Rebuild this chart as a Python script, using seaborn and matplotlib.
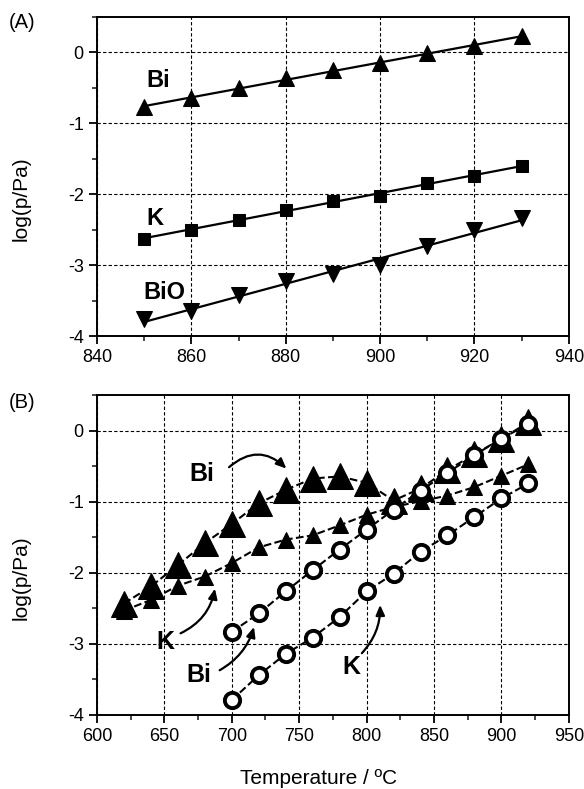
import matplotlib
matplotlib.use("Agg")
import matplotlib.pyplot as plt
import seaborn as sns
import numpy as np
from matplotlib.ticker import MultipleLocator, AutoMinorLocator

sns.set_theme(style="white")
plt.rcParams['font.family'] = ['Liberation Sans', 'DejaVu Sans']
plt.rcParams['text.color'] = 'black'
plt.rcParams['axes.labelcolor'] = 'black'
plt.rcParams['axes.unicode_minus'] = False

# ---------------- Panel A data ----------------
temp_a = [850, 860, 870, 880, 890, 900, 910, 920, 930]
bi_a = [-0.77, -0.65, -0.51, -0.37, -0.25, -0.16, -0.02, 0.08, 0.23]
k_a = [-2.63, -2.50, -2.36, -2.22, -2.10, -2.02, -1.85, -1.74, -1.60]
bio_a = [-3.76, -3.65, -3.42, -3.23, -3.13, -3.00, -2.73, -2.50, -2.34]

# ---------------- Panel B data ----------------
temp_tri = [620, 640, 660, 680, 700, 720, 740, 760, 780, 800, 820, 840, 860, 880, 900, 920]
bi_big_tri = [-2.43, -2.19, -1.89, -1.58, -1.31, -1.02, -0.83, -0.67, -0.64, -0.73,
              -0.98, -0.81, -0.55, -0.33, -0.11, 0.12]
k_small_tri = [-2.53, -2.38, -2.18, -2.05, -1.86, -1.64, -1.53, -1.47, -1.33, -1.18,
               -1.07, -0.99, -0.91, -0.79, -0.63, -0.47]
temp_circ = [700, 720, 740, 760, 780, 800, 820, 840, 860, 880, 900, 920]
bi_circ = [-2.83, -2.57, -2.26, -1.96, -1.67, -1.39, -1.11, -0.84, -0.59, -0.34, -0.11, 0.10]
k_circ = [-3.79, -3.44, -3.14, -2.91, -2.62, -2.26, -2.01, -1.70, -1.47, -1.21, -0.95, -0.74]

fig = plt.figure(figsize=(5.84, 7.89), dpi=100)
axA = fig.add_axes([0.166, 0.574, 0.808, 0.405])
axB = fig.add_axes([0.166, 0.0938, 0.808, 0.405])

tick_fs = 13

def style_axes(ax):
    for s in ax.spines.values():
        s.set_color('black')
        s.set_linewidth(1.4)
    ax.tick_params(axis='both', which='major', direction='out', length=6, width=1.3,
                   labelsize=tick_fs, colors='black', bottom=True, left=True, top=False, right=False)
    ax.tick_params(axis='both', which='minor', direction='out', length=3.5, width=1.2,
                   bottom=True, left=True, top=False, right=False)
    ax.xaxis.set_minor_locator(AutoMinorLocator(2))
    ax.yaxis.set_minor_locator(AutoMinorLocator(2))
    ax.set_axisbelow(True)
    ax.grid(True, which='major', color='black', linestyle=(0, (3, 2)), linewidth=0.8)
    ax.set_ylabel('log(p/Pa)', fontsize=15)
    ax.yaxis.set_label_coords(-0.161, 0.43)
    ax.yaxis.label.set_verticalalignment('center')

# ---------------- Panel A ----------------
for yv, mk, ms in [(bi_a, '^', 12), (k_a, 's', 8.5), (bio_a, 'v', 12)]:
    sns.regplot(x=np.array(temp_a), y=np.array(yv), ax=axA, ci=None, scatter=False,
                line_kws=dict(color='black', lw=1.6, zorder=2))
    sns.lineplot(x=temp_a, y=yv, ax=axA, color='black', linestyle='none', marker=mk,
                 markersize=ms, markeredgecolor='black', markerfacecolor='black', zorder=3)

axA.set_xlim(840, 940)
axA.set_ylim(-4, 0.5)
axA.xaxis.set_major_locator(MultipleLocator(20))
axA.yaxis.set_major_locator(MultipleLocator(1))
style_axes(axA)
axA.set_xlabel('')
axA.text(853, -0.40, 'Bi', fontsize=17, fontweight='bold', ha='center', va='center')
axA.text(852.2, -2.34, 'K', fontsize=17, fontweight='bold', ha='center', va='center')
axA.text(854.2, -3.39, 'BiO', fontsize=17, fontweight='bold', ha='center', va='center')
fig.text(0.015, 0.971, '(A)', fontsize=14.5, ha='left', va='center')

# ---------------- Panel B ----------------
sns.lineplot(x=temp_tri, y=bi_big_tri, ax=axB, color='black', linestyle='--', lw=1.5,
             marker='^', markersize=19, markeredgecolor='black', markerfacecolor='black', zorder=3)
sns.lineplot(x=temp_tri, y=k_small_tri, ax=axB, color='black', linestyle='--', lw=1.5,
             marker='^', markersize=12, markeredgecolor='black', markerfacecolor='black', zorder=3)
sns.lineplot(x=temp_circ, y=bi_circ, ax=axB, color='black', linestyle='--', lw=1.5,
             marker='o', markersize=11, markeredgewidth=2.8, markeredgecolor='black',
             markerfacecolor='white', zorder=4)
sns.lineplot(x=temp_circ, y=k_circ, ax=axB, color='black', linestyle='--', lw=1.5,
             marker='o', markersize=11, markeredgewidth=2.8, markeredgecolor='black',
             markerfacecolor='white', zorder=4)

axB.set_xlim(600, 950)
axB.set_ylim(-4, 0.5)
axB.xaxis.set_major_locator(MultipleLocator(50))
axB.yaxis.set_major_locator(MultipleLocator(1))
style_axes(axB)
axB.set_xlabel('Temperature / ºC', fontsize=15)
axB.xaxis.set_label_coords(0.47, -0.17)
fig.text(0.015, 0.49, '(B)', fontsize=14.5, ha='left', va='center')

arrow_kw = dict(arrowstyle='-|>,head_length=0.5,head_width=0.22', color='black', lw=1.6,
                shrinkA=0, shrinkB=0)
axB.text(678, -0.60, 'Bi', fontsize=18, fontweight='bold', ha='center', va='center')
axB.annotate('', xy=(740.5, -0.53), xytext=(698, -0.51),
             arrowprops=dict(connectionstyle='arc3,rad=-0.45', **arrow_kw))
axB.text(650.6, -2.97, 'K', fontsize=18, fontweight='bold', ha='center', va='center')
axB.annotate('', xy=(687.5, -2.22), xytext=(662, -2.85),
             arrowprops=dict(connectionstyle='arc3,rad=0.25', **arrow_kw))
axB.text(675.5, -3.44, 'Bi', fontsize=18, fontweight='bold', ha='center', va='center')
axB.annotate('', xy=(716.5, -2.76), xytext=(691, -3.37),
             arrowprops=dict(connectionstyle='arc3,rad=0.2', **arrow_kw))
axB.text(789, -3.32, 'K', fontsize=18, fontweight='bold', ha='center', va='center')
axB.annotate('', xy=(810, -2.45), xytext=(796.5, -3.13),
             arrowprops=dict(connectionstyle='arc3,rad=0.2', **arrow_kw))

fig.savefig('out.png', dpi=100, facecolor='white')
